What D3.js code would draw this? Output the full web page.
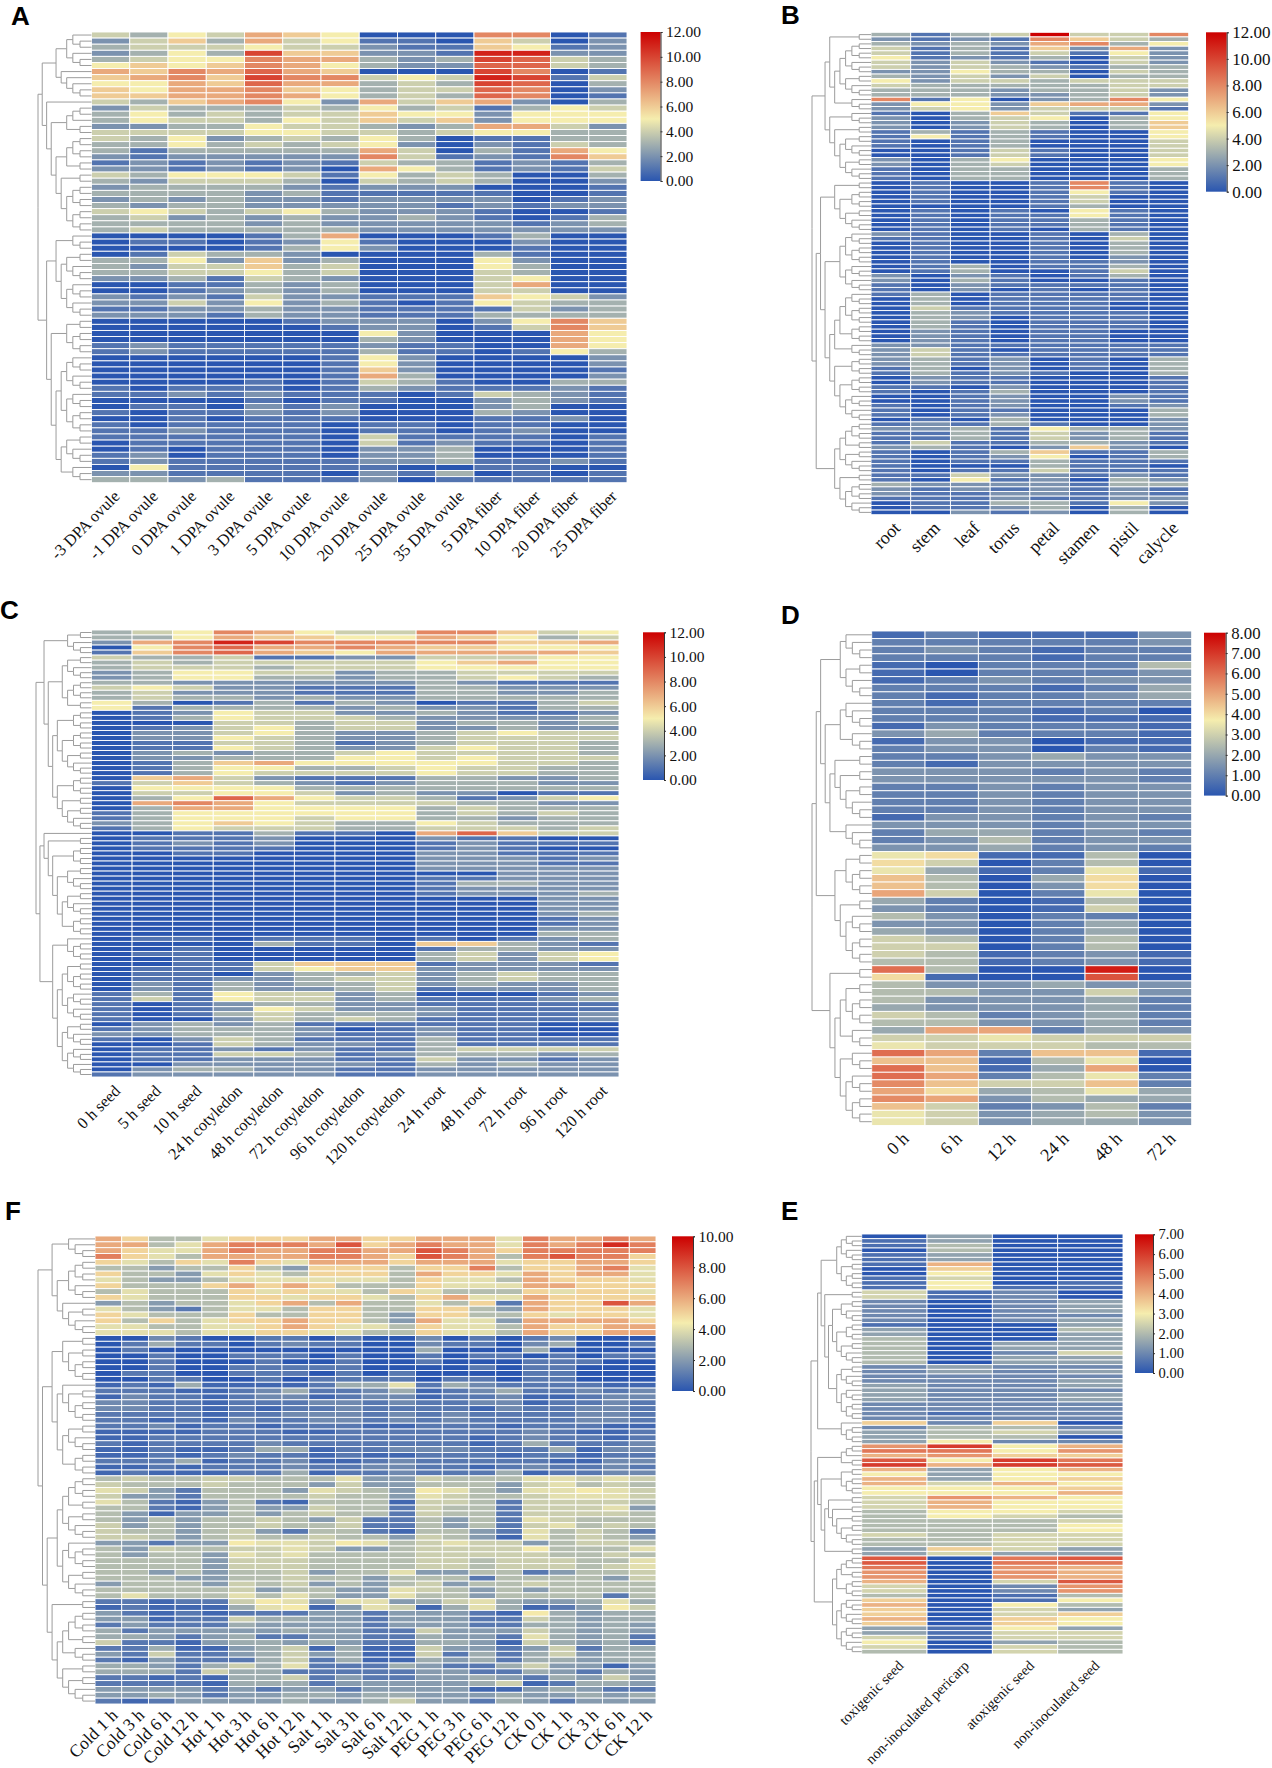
<!DOCTYPE html>
<html>
<head>
<meta charset="utf-8">
<script src="https://cdnjs.cloudflare.com/ajax/libs/d3/7.8.5/d3.min.js"></script>
<style>
  body { margin: 0; background: #fff; }
  text { font-family: "Liberation Serif", serif; fill: #111; }
</style>
</head>
<body>
<script>
// heatmap values: one string per row, one base-36 digit per cell (scaled by the panel's step)
const colsA = ["-3 DPA ovule","-1 DPA ovule","0 DPA ovule","1 DPA ovule","3 DPA ovule","5 DPA ovule","10 DPA ovule","20 DPA ovule","25 DPA ovule","35 DPA ovule","5 DPA fiber","10 DPA fiber","20 DPA fiber","25 DPA fiber"];
const rowsA = ["43547650008801","24637451106402","34445442116512","2353a66221bb22","3455877323a943","56568753229943","7687976000a801","6786a88454ba14","5576977343a903","65778653449802","66778753439801","43678527467203","24333435341354","35343446552555","35443546462555","22335443237742","44445544345533","43523435301133","33534345202143","31333337403175","21222228412186","12121214331213","22121207531214","43555415343003","32444304343002","23333212220001","33332311111001","23232212222012","32332222212122","45434532221001","34232322321013","33332322222123","34333332222222","00001370001300","01101251000200","00001352000100","01433200003100","33526230005200","32446340005300","33445340004300","22314320004500","00113230004700","00123230004400","21214221116542","22425231015433","11223221111423","22213221113333","00000122202586","00000012201486","00000005200075","00000003200075","12111112110075","12111113110153","00000015200002","00000015200002","00000016200001","00000017300002","00001014310033","10111013211121","11212111014321","00001011002321","01102120002300","10112120003200","00101110001120","10111101101100","11211101101200","11111104111101","01111104121101","01011102230001","12011102230001","12111112231121","05111111001100","22111102130101","33231112011111"];
const treeA = [[[[[1,2],[1,2]],[1,[1,[1,2]]]],[1,[[[2,1],2],[[[2,2],2],[2,[[2,2],4]]]]]],[[3,[5,6]],[[2,[2,2]],[[6,7],[5,3]]]]];
const ticksA = [0,2,4,6,8,10,12];

const colsB = ["root","stem","leaf","torus","petal","stamen","pistil","calycle"];
const rowsB = ["3134c448","21218643","32327835","41316272","41314152","51213042","42421042","42432133","22533043","32424033","52443444","43333344","33323342","33322342","81502385","25526772","24524441","10364115","20345035","20243036","20243036","13131005","15131005","10130004","10130004","00141004","00141004","20350005","20340005","10330003","10330003","10330003","01001810","01001810","01001510","01001400","01001400","00001300","01010510","01011510","01011310","01011310","01010310","21001030","11001040","01001030","01001030","01001030","01001020","01001120","01301130","01300140","20210130","20310010","10211110","10201010","13011110","03011110","03011100","04111100","03211110","03201110","03101110","03101110","02101100","02101100","02101100","22111111","24101111","24111111","23120103","23120103","13020103","13121003","02110001","02110001","11020001","10130001","00120021","00120021","10120012","10110003","10120003","01030002","12131002","22315332","11314231","11314231","14113321","23102620","10136113","10125013","10113111","10003110","10114111","11422121","10512032","32222133","21212121","21122121","11121122","01133152","01123030","00212030"];
const treeB = [[[2,[[[4,3],5],3]],[3,[2,[5,5]]]],[[[2,[4,5]],[[7,6],[[[[3,4],4],3],[4,[4,6]]]]],[[[[2,2],2],[2,3]],[2,[4,3]]]]];
const ticksB = [0,2,4,6,8,10,12];

const colsC = ["0 h seed","5 h seed","10 h seed","24 h cotyledon","48 h cotyledon","72 h cotyledon","96 h cotyledon","120 h cotyledon","24 h root","48 h root","72 h root","96 h root","120 h root"];
const rowsC = ["3458754488645","3357665576534","278ba88888667","0589778766555","1689765777776","4334112244455","3434444456755","3444344455555","2355442334444","2355332334543","3322222232111","4542211133222","3422211133223","3433232233333","5301313201134","5133332322133","0125442232112","0135444322223","0004434423323","0124534422322","0224532234544","0225432234444","0114431234443","0115432245443","0232334544443","0223335545444","0136755555443","0135533454433","0135444454433","0674211133223","1464321233322","0555533333333","0445542322011","0359754431245","0787544443322","0377555534333","1355555534343","1355545533233","2356543354333","1354443344434","0011311079644","0111200021100","0121200012111","0111100012100","0011000022111","0000000022212","0000000022211","0000000022222","0000000000222","0000000011222","0000000013322","0000000012222","0000000012223","0000000000022","0000000000022","0000000000022","0000000000023","0000000000012","0000000000012","0000000000022","0000000000033","0110111010123","0000311066321","0010000013322","0110000034245","0010000034245","0011466612221","0111456622222","0110233423433","0112234423433","0213233423223","0213223412223","1315442300012","1415442311123","1012332211111","1012542221111","1013433321112","1002434311112","0232311111100","1233320121100","2233321121100","1024311131111","0014322131111","0112121134444","0114431233323","0112221142212","0022222132322","0233221122222","1222221122222"];
const treeC = [[[2,[1,2]],[[5,[4,2]],[[4,[4,5]],[4,[2,5]]]]],[[1,[2,[4,[5,[5,4]]]]],[[1,[2,2]],[[[2,[2,2]],6],[5,6]]]]];
const ticksC = [0,2,4,6,8,10,12];

const colsD = ["0 h","6 h","12 h","24 h","48 h","72 h"];
const rowsD = ["121113","222223","232122","222122","102225","102223","123233","222124","212234","212222","222120","222111","132221","342221","133011","233021","223433","213333","333232","333332","223233","223233","223233","223233","133232","333233","244232","235233","334232","781150","860250","741271","950480","950380","a60270","420150","320160","530220","330240","430240","650250","660250","651231","551231","c500f0","8100d0","533433","553363","533342","433342","652342","553342","4aa243","667666","766655","ca2991","991570","c914a0","ca2572","b96692","a84574","ba3544","962352","763453","763443"];
const treeD = [[[[[1,[1,2]],[2,[1,2]]],[[[1,[1,2]],[1,2]],[[2,[2,[2,3]]],[1,[1,2]]]]],[[2,[2,2]],[2,[3,[2,2]]]]],[2,[[[2,[2,2]],3],[3,[3,4]]]]];
const ticksD = [0,1,2,3,4,5,6,7,8];

const colsE = ["toxigenic seed","non-inoculated pericarp","atoxigenic seed","non-inoculated seed"];
const rowsE = ["0300","1300","1400","0400","1300","1300","1800","0700","0600","1500","1601","1611","5120","5120","2023","2023","2023","2022","2023","1003","3004","3003","4003","4033","4033","4025","4033","4033","2322","2323","2222","2223","3223","3222","3223","3223","2222","2222","2122","2222","7270","2442","3453","3440","3622","9c68","aa69","8977","b6ca","c8cb","8368","6366","8367","8586","6667","6668","5986","5866","5866","4665","4654","4445","4446","4446","5455","4455","4455","3753","3533","b0ab","b0aa","a098","9098","9098","805b","5029","5029","4014","7016","8064","7053","7057","8076","7076","3163","3155","5155","6034","5054","4054"];
const treeE = [[[[[[1,2],[1,2]],[2,4]],[2,[[5,[4,5]],[5,7]]]],[1,[2,2]]],[[[[2,1],2],[[2,[2,2]],[[2,[2,[2,[2,3]]]],2]]],[[[[2,1],2],[2,2]],[6,6]]]];
const ticksE = [0,1,2,3,4,5,6,7];

const colsF = ["Cold 1 h","Cold 3 h","Cold 6 h","Cold 12 h","Hot 1 h","Hot 3 h","Hot 6 h","Hot 12 h","Salt 1 h","Salt 3 h","Salt 6 h","Salt 12 h","PEG 1 h","PEG 3 h","PEG 6 h","PEG 12 h","CK 0 h","CK 1 h","CK 3 h","CK 6 h","CK 12 h"];
const rowsF = [
  "ca668 aaacc aaccc 8ecce c","cc68c eeecg acecc 8ecei e","ca88c eccee ccgec aeeee e","ea86c cccee cagec 6egee a",
  "a86a8 ea8cc caccc 8aacc a","66466 a64aa a6aae 6aace 8","a6648 a86aa a6caa 8cacc 8","86446 88888 86a88 6caaa 8",
  "a666a caca6 66a88 8ccaa a","68666 a8a88 6a866 6a8aa 8","a8666 aa8aa 86ac8 8caaa a","46466 8ac6c 6686a 2caag c",
  "86426 886aa 66aa6 4caaa 8","a8666 a66aa 64aa6 6a8aa 8","a6a68 aacaa 64c88 4cccc a","88668 8aca8 86a88 6caac c",
  "88868 8aa88 66a88 6caac c","00320 02202 00302 02300 0","02522 02322 00322 03500 2","02000 00000 00500 05000 0",
  "00200 22202 00202 20202 2","00200 02002 00200 02220 0","00200 22222 00002 02200 0","02200 22202 02000 02200 0",
  "00220 02022 22022 02200 0","12151 11125 58253 22221 1","22211 23522 35123 52232 3","13221 23312 33122 31123 3",
  "33221 22233 23223 31223 2","33221 21223 22221 32233 2","22221 22333 23232 22233 2","22121 32233 23232 22233 2",
  "22312 21222 11222 12221 1","11112 22112 22222 23211 2","11222 22222 22221 23221 2","21222 23222 22221 25222 3",
  "11211 25512 23332 22513 3","11212 32212 11222 12212 2","22251 22311 23222 22113 3","11212 22322 33221 23223 2",
  "12111 22512 23222 51223 3","67667 76668 44766 68878 7","76667 66647 44666 47867 6","87426 66487 64986 48898 7",
  "74426 66676 64876 67888 7","86214 62166 61776 27777 6","66214 64476 62766 27778 4","64144 64676 62766 27777 6",
  "64646 67647 22646 28766 6","74646 67667 22646 27867 6","76646 74266 21664 28676 2","77646 76676 64764 18676 4",
  "44244 98879 86787 74677 6","64766 77874 46777 79666 8","64664 87866 66777 77667 6","66664 77766 66776 77766 8",
  "66664 77766 66776 77767 8","66464 66746 68446 62466 7","66644 66766 46662 66664 7","46664 76746 46746 67666 6",
  "66666 74664 48764 64666 6","68666 86864 48664 66662 6","22122 79848 84578 54458 5","12111 58914 87158 51249 7",
  "42121 22244 24442 19545 5","44122 75544 24442 27545 5","24222 54444 24442 25545 4","52444 44544 22744 47545 4",
  "55424 52244 22544 28545 2","72214 55454 22554 17545 2","22511 45715 11744 24725 5","42722 45745 11725 25745 5",
  "21422 25725 11545 25545 5","55425 75822 25422 57441 4","55527 55222 22442 25425 4","22121 55724 22445 42547 4",
  "22221 55524 44445 71255 4","44442 42442 44441 14542 2","44542 44554 55444 54454 5","21244 44544 57442 54244 4"];
const treeF = [[[1,[1,2]],[[[2,2],[1,2]],[1,[2,[1,2]]]]],[[[2,[2,[2,2]]],[[1,[2,[2,2]]],[[2,3],[2,2]]]],[[[[[2,2],2],[2,3]],[[1,[2,2]],[2,3]]],[2,[[[[2,2],2],3],[2,5]]]]]];
const ticksF = [0,2,4,6,8,10];

const blue = "#2a56b0", yellow = "#f5edae", red = "#cc0000";

const svg = d3.select("body").append("svg")
  .attr("width", 1272)
  .attr("height", 1768);

const defs = svg.append("defs");

// turn [2,[1,3]] into a binary tree, a number n being a small cluster of n leaves
function expand(t) {
  if (typeof t === "number") {
    if (t === 1) return {};
    const a = Math.floor(t / 2);
    return {children: [expand(a), expand(t - a)]};
  }
  return {children: t.map(expand)};
}

function drawPanel(p) {
  const values = p.rows.map(r => Array.from(r.replace(/\s/g, "")).map(c => parseInt(c, 36) * p.step));
  const color = d3.scaleLinear()
    .domain([0, p.mid, p.max])
    .range([blue, yellow, red]);

  const x = d3.scaleBand().domain(p.cols).range([p.x0, p.x1]);
  const y = d3.scaleBand().domain(d3.range(values.length)).range([p.y0, p.y1]);

  const g = svg.append("g");

  // panel letter
  svg.append("text")
    .attr("x", p.lx)
    .attr("y", p.ly)
    .style("font-family", "Liberation Sans")
    .style("font-weight", "bold")
    .style("font-size", "26px")
    .style("fill", "#000")
    .text(p.letter);

  // cells
  g.selectAll("g.row")
    .data(values)
    .join("g")
    .attr("class", "row")
    .attr("transform", (d, i) => `translate(0,${y(i)})`)
    .selectAll("rect")
    .data(d => d)
    .join("rect")
    .attr("x", (d, i) => x(p.cols[i]))
    .attr("width", x.bandwidth())
    .attr("height", y.bandwidth())
    .attr("fill", d => color(d))
    .attr("stroke", "#fff")
    .attr("stroke-width", 0.9);

  // column labels
  const xAxis = g.append("g")
    .attr("transform", `translate(0,${p.y1})`)
    .call(d3.axisBottom(x).tickSize(0));
  xAxis.select(".domain").remove();
  xAxis.selectAll("text")
    .attr("x", 0)
    .attr("y", 0)
    .attr("dy", "0.35em")
    .attr("text-anchor", "end")
    .attr("transform", `translate(${p.ldx},${p.ldy}) rotate(-45)`)
    .style("font-family", "Liberation Serif")
    .style("font-size", p.labelSize + "px");

  // dendrogram
  const root = d3.hierarchy(expand(p.tree));
  root.leaves().forEach((d, i) => d.py = y(i) + y.bandwidth() / 2);
  root.eachAfter(d => {
    if (d.children) d.py = (d.children[0].py + d.children[d.children.length - 1].py) / 2;
  });
  const tx = d3.scalePow().exponent(0.7)
    .domain([0, root.height])
    .range([p.x0, p.treeX]);
  g.append("g")
    .selectAll("path")
    .data(root.links())
    .join("path")
    .attr("fill", "none")
    .attr("stroke", "#9c9c9c")
    .attr("stroke-width", 1)
    .attr("d", d => `M${tx(d.source.height)},${d.source.py}V${d.target.py}H${tx(d.target.height)}`);

  // colour bar
  const gradId = "grad" + p.letter;
  defs.append("linearGradient")
    .attr("id", gradId)
    .attr("x1", 0).attr("x2", 0).attr("y1", 1).attr("y2", 0)
    .selectAll("stop")
    .data(color.domain())
    .join("stop")
    .attr("offset", d => d / p.max)
    .attr("stop-color", d => color(d));
  g.append("rect")
    .attr("x", p.bx0)
    .attr("y", p.by0)
    .attr("width", p.bx1 - p.bx0)
    .attr("height", p.by1 - p.by0)
    .attr("fill", `url(#${gradId})`);
  const barScale = d3.scaleLinear().domain([0, p.max]).range([p.by1, p.by0]);
  const barAxis = g.append("g")
    .attr("transform", `translate(${p.bx1},0)`)
    .call(d3.axisRight(barScale).tickValues(p.ticks).tickFormat(d3.format(".2f")).tickSize(2).tickPadding(3.5));
  barAxis.selectAll("path,line").attr("stroke", "#333");
  barAxis.selectAll("text")
    .style("font-family", "Liberation Serif")
    .style("font-size", p.barSize + "px");
}

const panels = [
  {letter: "A", cols: colsA, rows: rowsA, tree: treeA, ticks: ticksA, step: 1, mid: 5, max: 12,
   x0: 91.5, x1: 627, y0: 32, y1: 482.7, treeX: 38, lx: 11, ly: 25, labelSize: 16.5, ldx: 6, ldy: 10.5,
   bx0: 640.6, bx1: 660.5, by0: 32, by1: 181, barSize: 15.5},
  {letter: "B", cols: colsB, rows: rowsB, tree: treeB, ticks: ticksB, step: 1, mid: 5, max: 12,
   x0: 871, x1: 1188.7, y0: 32.3, y1: 514.7, treeX: 812, lx: 781, ly: 24, labelSize: 18, ldx: 6, ldy: 10,
   bx0: 1206, bx1: 1226.7, by0: 32.3, by1: 191.7, barSize: 17},
  {letter: "C", cols: colsC, rows: rowsC, tree: treeC, ticks: ticksC, step: 1, mid: 5, max: 12,
   x0: 91.5, x1: 619, y0: 630, y1: 1077, treeX: 36, lx: 0, ly: 619, labelSize: 16.3, ldx: 5.5, ldy: 11,
   bx0: 643, bx1: 664, by0: 632.3, by1: 780, barSize: 15.5},
  {letter: "D", cols: colsD, rows: rowsD, tree: treeD, ticks: ticksD, step: 0.5, mid: 3.7, max: 8,
   x0: 871.7, x1: 1191.7, y0: 631, y1: 1125.5, treeX: 812, lx: 781, ly: 624, labelSize: 18, ldx: 7, ldy: 10,
   bx0: 1204, bx1: 1225.7, by0: 632.7, by1: 795.6, barSize: 16.8},
  {letter: "E", cols: colsE, rows: rowsE, tree: treeE, ticks: ticksE, step: 0.5, mid: 3, max: 7,
   x0: 861.7, x1: 1123, y0: 1234, y1: 1654, treeX: 811, lx: 781, ly: 1220, labelSize: 14.6, ldx: 6.5, ldy: 9,
   bx0: 1135, bx1: 1153, by0: 1234.3, by1: 1373, barSize: 14.5},
  {letter: "F", cols: colsF, rows: rowsF, tree: treeF, ticks: ticksF, step: 0.5, mid: 4.4, max: 10,
   x0: 95, x1: 656, y0: 1236, y1: 1704, treeX: 38, lx: 5, ly: 1220, labelSize: 17.5, ldx: 6, ldy: 8,
   bx0: 672, bx1: 693, by0: 1236.3, by1: 1391, barSize: 15.5}
];

panels.forEach(drawPanel);
</script>
</body>
</html>
